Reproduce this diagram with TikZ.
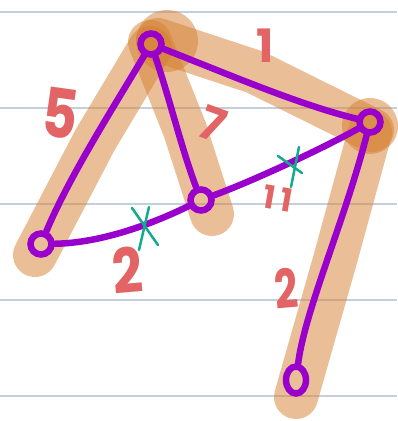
\documentclass[tikz,border=0pt]{standalone}
\usepackage{fontspec}
\usetikzlibrary{shapes.geometric}
\setmainfont{Poppins}
\definecolor{paperline}{RGB}{196,207,222}
\definecolor{hl}{RGB}{214,128,50}
\definecolor{edgep}{RGB}{153,0,204}
\definecolor{numred}{RGB}{226,100,100}
\definecolor{xgreen}{RGB}{20,170,140}
\begin{document}
\begin{tikzpicture}[x=1pt,y=-1pt,
  hlstroke/.style={draw=hl,opacity=0.5,line width=44pt,line cap=round,line join=round},
  hlblob/.style={fill=hl,opacity=0.5},
  edgeline/.style={draw=edgep,line width=6.5pt,line cap=round,line join=round},
  vert/.style={circle,draw=edgep,line width=6.5pt,fill=none,inner sep=0pt,minimum size=21pt},
  numlabel/.style={text=numred,inner sep=0pt},
  xmark/.style={draw=xgreen,line width=2.5pt,line cap=round}]
\useasboundingbox (0,0) rectangle (397,421);
\fill[white] (0,0) rectangle (397,421);
% paper lines
\foreach \yy in {12,108,204,300,396}
  \draw[paperline,line width=2pt] (0,\yy) -- (397,\yy);
% highlight strokes
\draw[hlstroke] (150,48) -- (95,140) -- (35,255);
\draw[hlstroke] (150,42) -- (185,130) -- (212,214);
\draw[hlstroke] (158,40) -- (255,72) -- (372,130);
\draw[hlstroke] (370,132) -- (335,260) -- (296,397);
\fill[hlblob] (167,41) circle (31);
\fill[hlblob] (370,126) circle (28);
% vertices
\node[vert] (A) at (151,44) {};
\node[vert] (R) at (370,122) {};
\node[vert] (C) at (201,200) {};
\node[vert] (D) at (41,244) {};
\node[vert,ellipse,minimum width=20pt,minimum height=27pt] (E) at (296,380) {};
% edges
\draw[edgeline] (A) .. controls (115,105) and (70,175) .. (D);
\draw[edgeline] (A) .. controls (170,100) and (182,150) .. (C);
\draw[edgeline] (A) .. controls (230,75) and (300,105) .. (R);
\draw[edgeline] (C) .. controls (250,182) and (320,150) .. (R);
\draw[edgeline] (D) .. controls (100,243) and (150,225) .. (C);
\draw[edgeline] (R) .. controls (345,220) and (305,310) .. (E);
% x marks
\coordinate (x1a) at (278,156); \coordinate (x1b) at (302,173);
\coordinate (x1c) at (299,147); \coordinate (x1d) at (291,187);
\draw[xmark] (x1a) -- (x1b); \draw[xmark] (x1c) -- (x1d);
\coordinate (x2a) at (132,208); \coordinate (x2b) at (158,245);
\coordinate (x2c) at (149,207); \coordinate (x2d) at (139,250);
\draw[xmark] (x2a) -- (x2b); \draw[xmark] (x2c) -- (x2d);
% labels
\node[numlabel,rotate=-8,xscale=0.8,font=\bfseries\fontsize{68}{68}\selectfont] (l5) at (60,113) {5};
\node[numlabel,font=\bfseries\fontsize{46}{46}\selectfont] (l1) at (265,46) {1};
\node[numlabel,rotate=-20,font=\bfseries\fontsize{46}{46}\selectfont] (l7) at (213,124) {7};
\node[numlabel,rotate=-10,font=\bfseries\fontsize{32}{32}\selectfont] (l11) at (278,199) {1\kern5pt 1};
\node[numlabel,rotate=5,xscale=0.85,font=\bfseries\fontsize{62}{62}\selectfont] (l2a) at (127,270) {2};
\node[numlabel,rotate=5,xscale=0.75,font=\bfseries\fontsize{54}{54}\selectfont] (l2b) at (286,288) {2};
\end{tikzpicture}
\end{document}
